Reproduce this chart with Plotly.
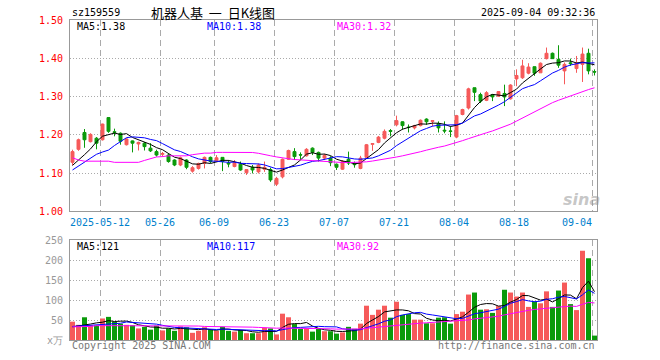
import math
import pandas as pd
import plotly.graph_objects as go

# ---------------- data ----------------
opens = [1.128, 1.162, 1.206, 1.182, 1.191, 1.187, 1.245, 1.208, 1.204, 1.174,
         1.184, 1.176, 1.178, 1.165, 1.156, 1.149, 1.147, 1.134, 1.121, 1.134,
         1.105, 1.112, 1.125, 1.141, 1.132, 1.141, 1.126, 1.117, 1.123, 1.101,
         1.115, 1.103, 1.110, 1.109, 1.071, 1.090, 1.136, 1.156, 1.148, 1.145,
         1.165, 1.154, 1.139, 1.139, 1.123, 1.110, 1.136, 1.124, 1.112, 1.141,
         1.175, 1.180, 1.191, 1.211, 1.226, 1.234, 1.220, 1.218, 1.224, 1.241,
         1.235, 1.229, 1.212, 1.210, 1.194, 1.253, 1.270, 1.323, 1.305, 1.290,
         1.305, 1.301, 1.308, 1.294, 1.346, 1.349, 1.361, 1.378, 1.362, 1.399,
         1.413, 1.397, 1.367, 1.388, 1.373, 1.384, 1.413, 1.365]
highs = [1.161, 1.190, 1.215, 1.204, 1.194, 1.229, 1.245, 1.216, 1.206, 1.191,
         1.185, 1.182, 1.181, 1.178, 1.161, 1.155, 1.152, 1.136, 1.143, 1.136,
         1.118, 1.127, 1.143, 1.143, 1.147, 1.141, 1.134, 1.134, 1.130, 1.110,
         1.121, 1.125, 1.130, 1.114, 1.090, 1.138, 1.161, 1.165, 1.154, 1.165,
         1.167, 1.156, 1.150, 1.144, 1.125, 1.134, 1.156, 1.130, 1.145, 1.176,
         1.178, 1.197, 1.214, 1.215, 1.250, 1.235, 1.227, 1.226, 1.240, 1.243,
         1.238, 1.235, 1.235, 1.222, 1.252, 1.268, 1.323, 1.323, 1.310, 1.314,
         1.305, 1.314, 1.331, 1.332, 1.371, 1.396, 1.387, 1.378, 1.389, 1.428,
         1.415, 1.434, 1.389, 1.399, 1.406, 1.428, 1.425, 1.371]
lows = [1.120, 1.158, 1.166, 1.180, 1.162, 1.185, 1.205, 1.196, 1.174, 1.172,
        1.154, 1.159, 1.159, 1.155, 1.143, 1.143, 1.127, 1.118, 1.118, 1.110,
        1.101, 1.109, 1.112, 1.126, 1.130, 1.105, 1.115, 1.115, 1.106, 1.095,
        1.099, 1.099, 1.103, 1.077, 1.066, 1.086, 1.134, 1.134, 1.134, 1.143,
        1.147, 1.130, 1.134, 1.118, 1.108, 1.108, 1.121, 1.114, 1.110, 1.138,
        1.158, 1.178, 1.188, 1.196, 1.222, 1.213, 1.206, 1.214, 1.222, 1.226,
        1.222, 1.206, 1.204, 1.194, 1.191, 1.251, 1.266, 1.288, 1.283, 1.288,
        1.288, 1.299, 1.275, 1.292, 1.327, 1.346, 1.358, 1.354, 1.362, 1.397,
        1.399, 1.375, 1.332, 1.380, 1.362, 1.338, 1.358, 1.355]
closes = [1.156, 1.187, 1.187, 1.201, 1.178, 1.228, 1.209, 1.206, 1.183, 1.189,
          1.178, 1.180, 1.169, 1.158, 1.147, 1.151, 1.130, 1.121, 1.140, 1.115,
          1.114, 1.125, 1.141, 1.130, 1.140, 1.130, 1.124, 1.127, 1.108, 1.109,
          1.108, 1.121, 1.115, 1.082, 1.086, 1.136, 1.159, 1.143, 1.147, 1.162,
          1.154, 1.139, 1.146, 1.127, 1.115, 1.130, 1.126, 1.122, 1.139, 1.174,
          1.177, 1.194, 1.209, 1.209, 1.237, 1.224, 1.219, 1.224, 1.238, 1.234,
          1.237, 1.218, 1.210, 1.209, 1.250, 1.266, 1.320, 1.311, 1.288, 1.310,
          1.299, 1.313, 1.299, 1.330, 1.355, 1.380, 1.377, 1.361, 1.387, 1.413,
          1.399, 1.382, 1.384, 1.386, 1.387, 1.411, 1.367, 1.364]
volumes = [46, 38, 57, 37, 37, 54, 58, 46, 41, 38,
           37, 29, 33, 26, 36, 24, 29, 23, 34, 32,
           18, 23, 32, 26, 23, 33, 23, 21, 25, 17,
           17, 17, 31, 29, 14, 66, 57, 40, 28, 29,
           21, 28, 22, 22, 16, 19, 33, 28, 41, 86,
           63, 76, 86, 56, 96, 63, 65, 51, 51, 42,
           42, 56, 57, 41, 65, 71, 114, 119, 76, 77,
           68, 85, 126, 119, 109, 119, 83, 97, 92, 122,
           83, 124, 144, 90, 75, 224, 205, 11]

# moving-average values at the left edge (they depend on days before the window)
ma5_lead = [1.120, 1.133, 1.148, 1.163]
ma10_lead = [1.108, 1.118, 1.128, 1.138, 1.149, 1.155, 1.160, 1.172, 1.183]
ma30_lead = [1.140, 1.134, 1.131, 1.131, 1.131, 1.131, 1.131, 1.128, 1.128, 1.128,
             1.128, 1.128, 1.133, 1.138, 1.142, 1.143, 1.145, 1.145, 1.145, 1.145,
             1.148, 1.151, 1.152, 1.152, 1.154, 1.154, 1.154, 1.154, 1.154]
vol_ma5_lead = [33, 35, 38, 40]
vol_ma10_lead = [34, 35, 36, 37, 38, 39, 40, 41, 42]
vol_ma30_lead = [33, 33, 33, 34, 36, 36, 36, 36, 36, 36, 36, 36, 36, 36, 36,
                 36, 36, 36, 36, 36, 36, 35, 34, 34, 34, 34, 34, 34, 34]

tick_index = [5, 15, 24, 34, 44, 54, 64, 74, 87]
tick_labels = ["2025-05-12", "05-26", "06-09", "06-23", "07-07",
               "07-21", "08-04", "08-18", "09-04"]
price_ticks = [1.00, 1.10, 1.20, 1.30, 1.40, 1.50]
vol_ticks = [0, 50, 100, 150, 200, 250]
vol_tick_labels = ["x万", "50", "100", "150", "200", "250"]

code = "sz159559"
title = "机器人基\u00a0\u00a0一\u00a0\u00a0日K线图"
stamp = "2025-09-04 09:32:36"

# ---------------- derived ----------------
n = len(closes)
idx = list(range(n))


def moving(values, win, lead):
    s = pd.Series(values, dtype=float).rolling(win).mean()
    s.iloc[:len(lead)] = lead
    return s.tolist()


ma5 = moving(closes, 5, ma5_lead)
ma10 = moving(closes, 10, ma10_lead)
ma30 = moving(closes, 30, ma30_lead)
vma5 = moving(volumes, 5, vol_ma5_lead)
vma10 = moving(volumes, 10, vol_ma10_lead)
vma30 = moving(volumes, 30, vol_ma30_lead)

RED = "#F65A5A"
GREEN = "#0A9A0A"
GRID = "#AAAAAA"
BORDER = "#999999"
MONO = "DejaVu Sans Mono, Liberation Mono, monospace"

vol_colors = [RED if c > o else GREEN for o, c in zip(opens, closes)]

fig = go.Figure()

fig.add_trace(go.Candlestick(
    x=idx, open=opens, high=highs, low=lows, close=closes,
    increasing=dict(line=dict(color=RED, width=1), fillcolor=RED),
    decreasing=dict(line=dict(color=GREEN, width=1), fillcolor=GREEN),
    whiskerwidth=0, xaxis="x", yaxis="y", showlegend=False, hoverinfo="skip"))

for vals, col in ((ma5, "#000000"), (ma10, "#0000FF"), (ma30, "#FF00FF")):
    fig.add_trace(go.Scatter(x=idx, y=vals, mode="lines",
                             line=dict(color=col, width=1),
                             xaxis="x", yaxis="y", showlegend=False,
                             hoverinfo="skip"))

fig.add_trace(go.Bar(x=idx, y=volumes, marker=dict(color=vol_colors, line=dict(width=0)),
                     width=0.83, xaxis="x2", yaxis="y2", showlegend=False,
                     hoverinfo="skip"))
for vals, col in ((vma5, "#000000"), (vma10, "#0000FF"), (vma30, "#FF00FF")):
    fig.add_trace(go.Scatter(x=idx, y=vals, mode="lines",
                             line=dict(color=col, width=1),
                             xaxis="x2", yaxis="y2", showlegend=False,
                             hoverinfo="skip"))

# geometry helpers (pixel -> paper), plot area is x 70..597, y 20..340
L, R, T, B = 70, 63, 20, 20
PW, PH = 660 - L - R, 360 - T - B


def px(x):
    return (x - L) / PW


def py(y):
    return (360 - B - y) / PH


grid_x = [i - 2.5 / 6 for i in tick_index]
xr = [-2.5 / 6, n - 1 + 2.5 / 6]

labels_padded = list(tick_labels)
labels_padded[-1] = tick_labels[-1] + "\u00a0" * 5

common_x = dict(range=xr, tickvals=grid_x, showgrid=True, gridcolor=GRID,
                griddash="6px,4px", gridwidth=1, zeroline=False,
                showline=True, mirror=True, linecolor=BORDER, linewidth=1,
                ticks="", fixedrange=True, automargin=False)

fig.update_layout(
    width=660, height=360,
    margin=dict(l=L, r=R, t=T, b=B),
    paper_bgcolor="white", plot_bgcolor="white",
    boxgap=0.3,
    xaxis=dict(common_x, domain=[0, 1], anchor="y", ticktext=labels_padded,
               showticklabels=True,
               tickfont=dict(family=MONO, size=10, color="#0080CC"),
               rangeslider=dict(visible=False), ticklabelstandoff=2),
    xaxis2=dict(common_x, domain=[0, 1], anchor="y2", matches="x",
                showticklabels=False),
    yaxis=dict(domain=[py(211.3), 1], range=[1.0, 1.5], tickvals=price_ticks,
               ticktext=[f"{v:.2f}" for v in price_ticks],
               tickfont=dict(family=MONO, size=10, color="#FF0000"),
               showgrid=True, gridcolor=GRID, griddash="1px,2px", zeroline=False,
               showline=True, mirror=True, linecolor=BORDER, linewidth=1,
               ticks="", ticklabelstandoff=4, fixedrange=True, automargin=False),
    yaxis2=dict(domain=[0, py(240.3)], range=[0, 250], tickvals=vol_ticks,
                ticktext=vol_tick_labels,
                tickfont=dict(family=MONO, size=10, color="#999999"),
                showgrid=True, gridcolor=GRID, griddash="1px,2px", zeroline=False,
                showline=True, mirror=True, linecolor=BORDER, linewidth=1,
                ticks="", ticklabelstandoff=4, fixedrange=True, automargin=False),
)


def trunc2(v):
    return math.floor(v * 100 + 1e-9) / 100


ann = []


def text(x, y, s, color="#000000", size=10, family=MONO, xanchor="left"):
    ann.append(dict(x=px(x), y=py(y), xref="paper", yref="paper", text=s,
                    showarrow=False, xanchor=xanchor, yanchor="middle",
                    font=dict(family=family, size=size, color=color)))


text(70, 12.5, code)
text(213, 12.5, title, size=13, family="Noto Sans CJK SC", xanchor="center")
text(597, 12.5, stamp, xanchor="right")

text(75, 26, f"MA5:{trunc2(ma5[-1]):.2f}", "#000000")
text(204.7, 26, f"MA10:{trunc2(ma10[-1]):.2f}", "#0000FF")
text(334.7, 26, f"MA30:{trunc2(ma30[-1]):.2f}", "#FF00FF")

text(75, 246.5, f"MA5:{int(vma5[-1])}", "#000000")
text(204.7, 246.5, f"MA10:{int(vma10[-1])}", "#0000FF")
text(334.7, 246.5, f"MA30:{int(vma30[-1])}", "#FF00FF")

text(70, 345.5, "Copyright 2025 SINA.COM", "#777777")
text(597, 345.5, "http://finance.sina.com.cn", "#777777", xanchor="right")

text(581, 199, "<b><i>sina</i></b>", "rgba(150,150,150,0.55)", size=16,
     family="DejaVu Sans", xanchor="center")

fig.update_layout(annotations=ann)

fig.write_html("out.html", config={"displayModeBar": False},
               post_script="document.body.style.margin='0';")
